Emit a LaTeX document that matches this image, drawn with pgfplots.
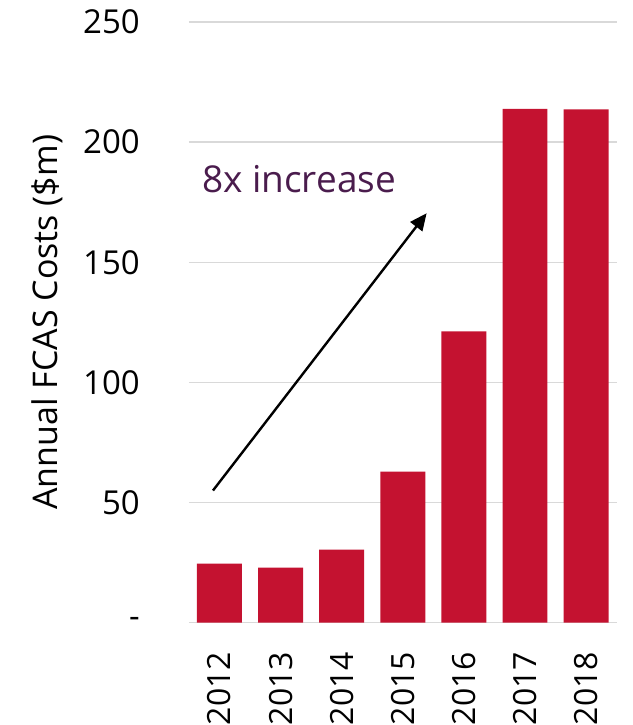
\documentclass[border=0pt]{standalone}
\usepackage{fontspec}
\setmainfont{Open Sans}
\usepackage{xcolor}
\usepackage{pgfplots}
\pgfplotsset{compat=1.18}
\usetikzlibrary{arrows.meta}

\definecolor{barred}{HTML}{C41230}
\definecolor{gridgrey}{HTML}{D9D9D9}
\definecolor{notepurple}{HTML}{4A1C4D}

\begin{document}
\begin{tikzpicture}
\begin{axis}[
    name=ax,
    scale only axis,
    width=428pt,
    height=601pt,
    xmin=-0.5, xmax=6.5,
    ymin=0, ymax=250,
    axis line style={draw=none},
    major tick length=0pt,
    tick style={draw=none},
    ymajorgrids,
    grid style={gridgrey, line width=1.5pt},
    ytick={0,50,100,150,200,250},
    yticklabels={-,50,100,150,200,250},
    xtick={0,1,2,3,4,5,6},
    xticklabels={2012,2013,2014,2015,2016,2017,2018},
    yticklabel style={font=\fontsize{33}{38}\selectfont, anchor=east, inner sep=0pt, xshift=-49pt},
    xticklabel style={font=\fontsize{32}{38}\selectfont, rotate=90, anchor=east, inner sep=0pt, xshift=-29pt},
    ylabel={Annual FCAS Costs (\$m)},
    ylabel style={font=\fontsize{34}{40}\selectfont, at={(axis description cs:-0.2944,0.5)}, anchor=south, inner sep=0pt},
    ybar,
    bar width=45pt,
]
\addplot[fill=barred, draw=none] coordinates {
    (0,24.6) (1,22.9) (2,30.4) (3,62.9) (4,121.2) (5,213.8) (6,213.6)
};
\draw[line width=2.4pt, -{Triangle[length=17pt,width=15pt]}] (axis cs:-0.106,55) -- (axis cs:3.39,170.4);
\node[anchor=base west, inner sep=0pt, text=notepurple, font=\fontsize{37}{44}\selectfont] at (axis cs:-0.286,179.2) {8x increase};
\end{axis}
\path (ax.south west) ++(-189pt,-102pt) coordinate (bbl);
\path (ax.north east) ++(16pt,22pt) coordinate (btr);
\path (bbl) rectangle (btr);
\end{tikzpicture}
\end{document}
